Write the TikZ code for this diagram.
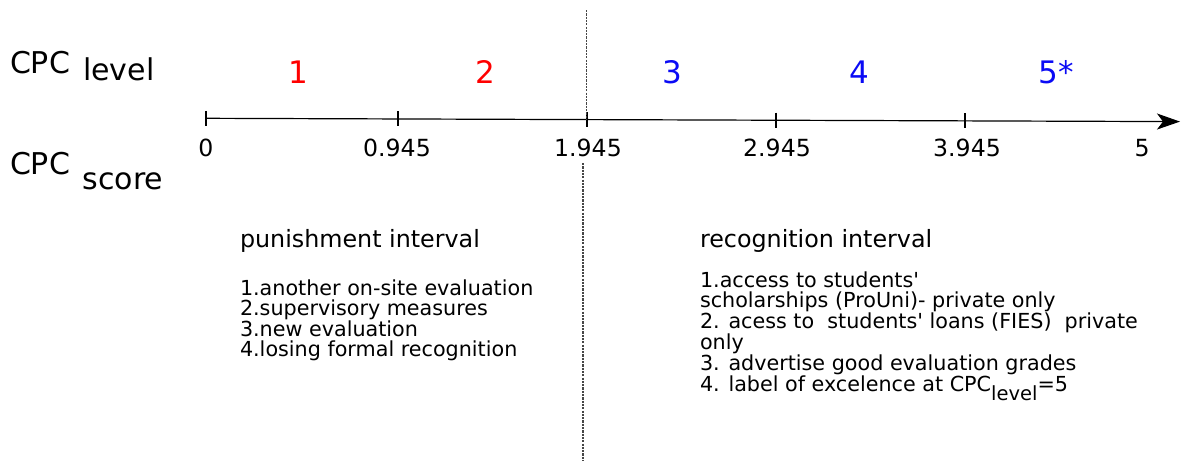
\documentclass[tikz,border=0pt]{standalone}
\usepackage{fontspec}
\setmainfont{DejaVu Sans}
\usetikzlibrary{arrows.meta}
\definecolor{lvred}{RGB}{255,0,0}
\definecolor{lvblue}{RGB}{10,10,245}
\definecolor{dotgray}{RGB}{70,70,70}
\begin{document}
\begin{tikzpicture}[x=1pt,y=-1pt,
  txt/.style={inner sep=0pt,outer sep=0pt,anchor=base west},
  big/.style={txt,font=\fontsize{30}{30}\selectfont},
  lvl/.style={inner sep=0pt,anchor=base,font=\fontsize{31}{31}\selectfont},
  ticklab/.style={inner sep=0pt,anchor=base,font=\fontsize{23.6}{24}\selectfont},
  head/.style={txt,font=\fontsize{23.8}{24}\selectfont},
  listtxt/.style={txt,align=left,font=\fontsize{20.7}{20}\selectfont},
  tickmark/.style={line width=1.2pt},
  axisline/.style={line width=1.2pt,-{Stealth[length=23pt,width=16pt,inset=6pt]}},
  divider/.style={dotgray,line width=1.6pt,dash pattern=on 2.2pt off 1.1pt}
]
\useasboundingbox (0,0) rectangle (1181,461);

% left labels
\node[big] (cpc1) at (10,73.3) {CPC};
\node[big] (lev) at (83,80) {level};
\node[big] (cpc2) at (10,174.3) {CPC};
\node[big] (sco) at (82.7,189) {score};

% level numbers
\node[lvl,text=lvred] (l1) at (298,83.5) {1};
\node[lvl,text=lvred] (l2) at (485,83.5) {2};
\node[lvl,text=lvblue] (l3) at (672,83.5) {3};
\node[lvl,text=lvblue] (l4) at (859,83.5) {4};
\node[lvl,text=lvblue] (l5) at (1056,83.5) {5*};

% axis
\coordinate (a0) at (206,118.3);
\coordinate (aend) at (1180,121.6);
\draw[axisline] (a0) -- (aend);
\foreach \x/\n in {206/t0,398/t1,587/t2,776/t3,965/t4}{
  \pgfmathsetmacro{\yy}{118.3+(\x-206)*3.3/974}
  \coordinate (\n top) at (\x,\yy-7.5);
  \coordinate (\n bot) at (\x,\yy+7.5);
  \draw[tickmark] (\n top) -- (\n bot);
}
\node[ticklab] (s0) at (206,156.7) {0};
\node[ticklab] (s1) at (397,156.7) {0.945};
\node[ticklab] (s2) at (588,156.7) {1.945};
\node[ticklab] (s3) at (777,156.7) {2.945};
\node[ticklab] (s4) at (967,156.7) {3.945};
\node[ticklab] (s5) at (1142,156.7) {5};

% divider
\coordinate (d1a) at (586.5,10);
\coordinate (d1b) at (586.5,119);
\coordinate (d2a) at (582.7,163);
\coordinate (d2b) at (582.7,461);
\draw[divider] (d1a) -- (d1b);
\draw[divider] (d2a) -- (d2b);

% punishment
\node[head] (ph) at (240,247.7) {punishment interval};
\node[listtxt] (pl) at (240,356.7) {1.another on-site evaluation\\2.supervisory measures\\3.new evaluation\\4.losing formal recognition};

% recognition
\node[head] (rh) at (700,247.7) {recognition interval};
\node[listtxt] (rl) at (700,391.7) {1.access to students\textquotesingle\\scholarships (ProUni)- private only\\2. acess to\ \ students\textquotesingle{} loans (FIES)\ \ private\\only\\3. advertise good evaluation grades\\4. label of excelence at CPC\raisebox{-9pt}{\fontsize{19.5}{19}\selectfont level}=5};
\end{tikzpicture}
\end{document}
